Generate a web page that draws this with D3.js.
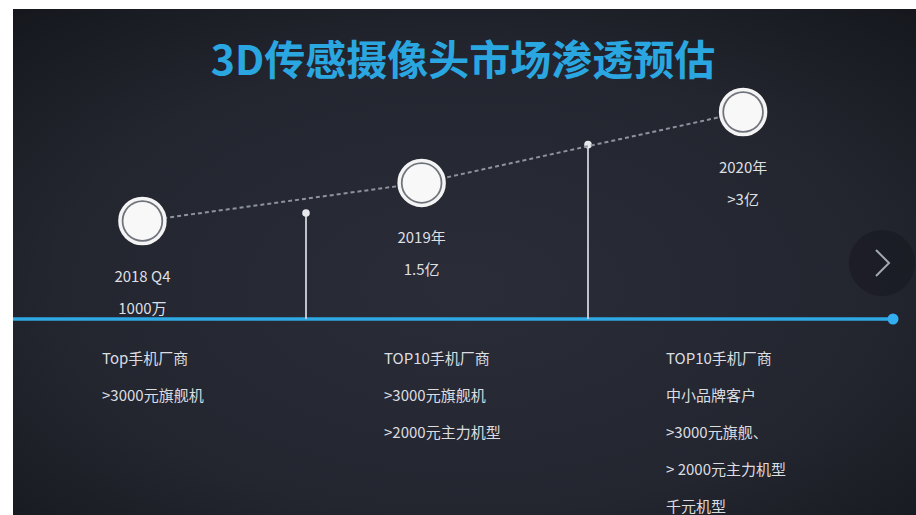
<!DOCTYPE html>
<html lang="zh">
<head>
    <meta charset="utf-8">
    <title>3D传感摄像头市场渗透预估</title>
    <script src="https://d3js.org/d3.v7.min.js"></script>
    <style>
        html, body { margin: 0; padding: 0; background: #ffffff; }
        svg { display: block; }
        text { font-family: "Noto Sans CJK SC", "Noto Sans", sans-serif; }
    </style>
</head>
<body>
<div id="chart__container"></div>
<script>

/* ------------------------------------------------------------
 *  Data
 * ------------------------------------------------------------ */
var title = "3D传感摄像头市场渗透预估";
// milestones on the timeline (year as decimal, level in 亿)
var milestoneLabels = ["2018 Q4", "2019年", "2020年"];
var milestoneValues = ["1000万", "1.5亿", ">3亿"];
var milestoneYear = [2018.42, 2019.41, 2020.55];
var milestoneLevel = [0.1, 1.5, 3];
// year boundaries with marker stems
var dividerYear = [2019, 2020];
var dividerLevel = [0.55, 2.37];
// customer groups below the timeline
var periodStart = [2018, 2019, 2020];
var groupLines = [
    ["Top手机厂商", ">3000元旗舰机"],
    ["TOP10手机厂商", ">3000元旗舰机", ">2000元主力机型"],
    ["TOP10手机厂商", "中小品牌客户", ">3000元旗舰、", "> 2000元主力机型", "千元机型"]
];

/* ------------------------------------------------------------
 *  Setup
 * ------------------------------------------------------------ */
var width = 916, height = 515;
var panel = {left: 13, top: 9};
var axisY = 319;

var x = d3.scaleLinear().domain([2018, 2021]).range([24, 870]);
var y = d3.scalePow().exponent(1.5).domain([0.1, 3]).range([221, 112]);

var svg = d3.select("#chart__container")
    .append("svg")
    .attr("width", width)
    .attr("height", height);

var defs = svg.append("defs");
var bg = defs.append("radialGradient")
    .attr("id", "bg-grad")
    .attr("cx", "50%").attr("cy", "55%").attr("r", "75%");
bg.append("stop").attr("offset", "0%").attr("stop-color", "#2a2d38");
bg.append("stop").attr("offset", "60%").attr("stop-color", "#23262f");
bg.append("stop").attr("offset", "100%").attr("stop-color", "#15171d");

var glow = defs.append("filter").attr("id", "glow")
    .attr("x", "-5%").attr("y", "-200%").attr("width", "110%").attr("height", "500%");
glow.append("feGaussianBlur").attr("stdDeviation", 2.5);

// dark slide panel
svg.append("rect")
    .attr("x", panel.left)
    .attr("y", panel.top)
    .attr("width", width - panel.left)
    .attr("height", height - panel.top)
    .attr("fill", "url(#bg-grad)");

// Title
svg.append("text")
    .attr("x", 463)
    .attr("y", 57)
    .attr("text-anchor", "middle")
    .attr("dominant-baseline", "central")
    .attr("font-size", 41)
    .attr("font-weight", 700)
    .attr("fill", "#2aa7e1")
    .text(title);

// Timeline (blue axis)
var axis = svg.append("g");
axis.append("line")
    .attr("x1", panel.left).attr("x2", 893)
    .attr("y1", axisY).attr("y2", axisY)
    .attr("stroke", "#1f8fd0")
    .attr("stroke-width", 7)
    .attr("opacity", 0.55)
    .attr("filter", "url(#glow)");
axis.append("line")
    .attr("x1", panel.left).attr("x2", 893)
    .attr("y1", axisY).attr("y2", axisY)
    .attr("stroke", "#2fa9e3")
    .attr("stroke-width", 3.5);
axis.append("circle")
    .attr("cx", 893).attr("cy", axisY).attr("r", 5.5)
    .attr("fill", "#33aef0");

// Divider stems
var stems = svg.append("g")
    .selectAll("g")
    .data(dividerYear)
    .enter()
    .append("g");
stems.append("line")
    .attr("x1", d => x(d)).attr("x2", d => x(d))
    .attr("y1", (d, i) => y(dividerLevel[i]))
    .attr("y2", axisY)
    .attr("stroke", "#cfd3da")
    .attr("stroke-width", 1.8);
stems.append("circle")
    .attr("cx", d => x(d))
    .attr("cy", (d, i) => y(dividerLevel[i]))
    .attr("r", 3.8)
    .attr("fill", "#e6e8ec");

// Dashed trend line through the milestones
var points = milestoneYear.map((d, i) => [x(d), y(milestoneLevel[i])]);
svg.append("path")
    .attr("d", d3.line()(points))
    .attr("fill", "none")
    .attr("stroke", "#8d939f")
    .attr("stroke-width", 2)
    .attr("stroke-dasharray", "4 3");

// Milestone circles
var ms = svg.append("g")
    .selectAll("g")
    .data(milestoneYear)
    .enter()
    .append("g")
    .attr("transform", (d, i) => `translate(${x(d)},${y(milestoneLevel[i])})`);
ms.append("circle")
    .attr("r", 22.5)
    .attr("fill", "#6f737b")
    .attr("stroke", "#f4f4f4")
    .attr("stroke-width", 3.5);
ms.append("circle")
    .attr("r", 19)
    .attr("fill", "#f8f8f8");
ms.append("text")
    .attr("y", 54)
    .attr("text-anchor", "middle")
    .attr("dominant-baseline", "central")
    .attr("font-size", 15)
    .attr("fill", "#dedfe2")
    .text((d, i) => milestoneLabels[i]);
ms.append("text")
    .attr("y", 86)
    .attr("text-anchor", "middle")
    .attr("dominant-baseline", "central")
    .attr("font-size", 15)
    .attr("fill", "#dedfe2")
    .text((d, i) => milestoneValues[i]);

// Customer groups below the axis
var groups = svg.append("g")
    .selectAll("g")
    .data(groupLines)
    .enter()
    .append("g")
    .attr("transform", (d, i) => `translate(${x(periodStart[i]) + 78},357)`);
groups.selectAll("text")
    .data(d => d)
    .enter()
    .append("text")
    .attr("y", (d, i) => i * 37)
    .attr("dominant-baseline", "central")
    .attr("font-size", 15)
    .attr("fill", "#dcdde0")
    .text(d => d);

// "next" button on the right edge
var next = svg.append("g").attr("transform", `translate(${width - 34},263)`);
next.append("circle")
    .attr("r", 33)
    .attr("fill", "#1a1c24")
    .attr("opacity", 0.8);
next.append("path")
    .attr("d", "M-6,-13 L7,0 L-6,13")
    .attr("fill", "none")
    .attr("stroke", "#a3a7ae")
    .attr("stroke-width", 2);

</script>
</body>
</html>
